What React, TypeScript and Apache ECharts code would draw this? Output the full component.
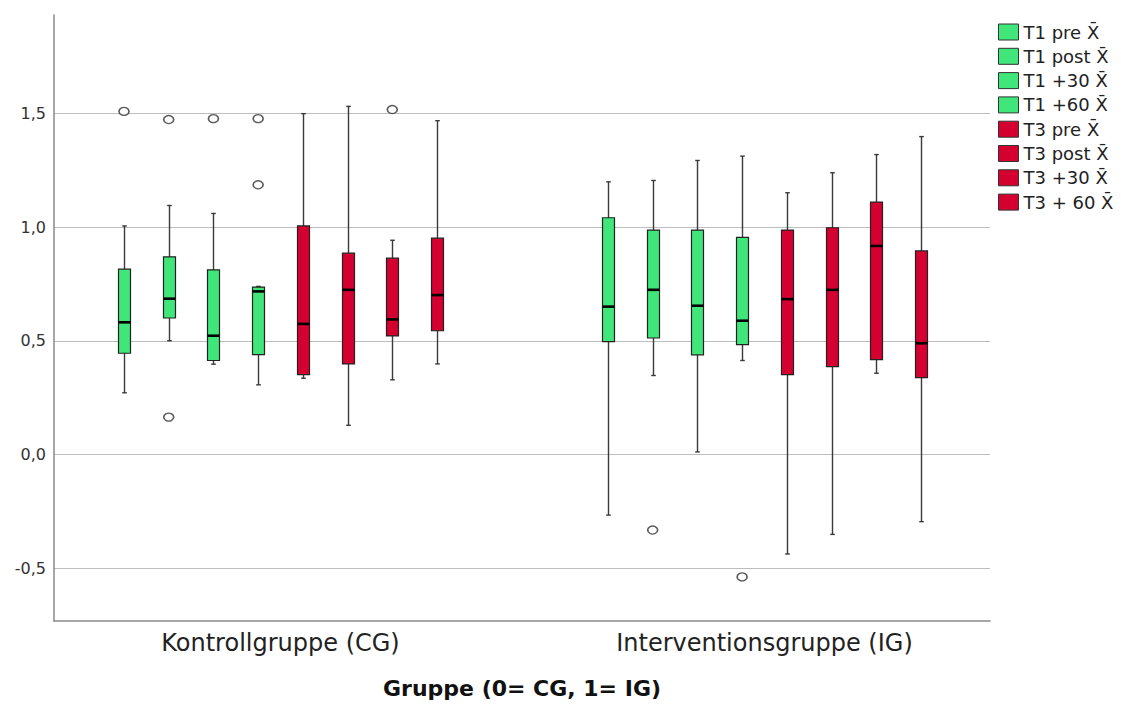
import React, { useEffect, useRef } from 'react';
import * as echarts from 'echarts';

const groups = ['Kontrollgruppe (CG)', 'Interventionsgruppe (IG)'];
const seriesNames = [
  'T1 pre X̄',
  'T1 post X̄',
  'T1 +30 X̄',
  'T1 +60 X̄',
  'T3 pre X̄',
  'T3 post X̄',
  'T3 +30 X̄',
  'T3 + 60 X̄',
];
const seriesColors = ['#40E67A', '#40E67A', '#40E67A', '#40E67A', '#D4002F', '#D4002F', '#D4002F', '#D4002F'];

// [min, q1, median, q3, max]
const cgStats = [
  [0.272, 0.446, 0.582, 0.816, 1.006],
  [0.501, 0.601, 0.686, 0.87, 1.096],
  [0.398, 0.414, 0.523, 0.813, 1.061],
  [0.307, 0.44, 0.718, 0.737, 0.74],
  [0.336, 0.352, 0.575, 1.006, 1.5],
  [0.129, 0.399, 0.725, 0.886, 1.532],
  [0.329, 0.522, 0.595, 0.864, 0.943],
  [0.399, 0.545, 0.702, 0.952, 1.469],
];
const igStats = [
  [-0.266, 0.497, 0.651, 1.042, 1.2],
  [0.348, 0.513, 0.725, 0.988, 1.206],
  [0.012, 0.439, 0.655, 0.988, 1.294],
  [0.414, 0.484, 0.589, 0.956, 1.313],
  [-0.437, 0.352, 0.684, 0.988, 1.152],
  [-0.351, 0.387, 0.725, 0.998, 1.24],
  [0.358, 0.418, 0.918, 1.111, 1.32],
  [-0.295, 0.339, 0.49, 0.896, 1.399],
];
const cgOutliers = [[1.51], [1.474, 0.165], [1.478], [1.478, 1.187], [], [], [1.518], []];
const igOutliers = [[], [-0.332], [], [-0.538], [], [], [], []];

const SLOT = 0.0924;
const BOX_W = 0.0248;
const CAP_W = 0.0095;
const slotOffset = (i: number) => (i - 3.5) * SLOT;

export default function App() {
  const ref = useRef<HTMLDivElement>(null);
  useEffect(() => {
    if (!ref.current) return;
    const chart = echarts.init(ref.current, null, { renderer: 'svg' });

    const boxSeries = seriesNames.map((name, i) => ({
      name,
      type: 'custom',
      itemStyle: { color: seriesColors[i] },
      encode: { x: 0, y: [1, 2, 3, 4, 5] },
      data: [
        [0 + slotOffset(i), ...cgStats[i]],
        [1 + slotOffset(i), ...igStats[i]],
      ],
      renderItem: (params: any, api: any) => {
        const x = api.value(0);
        const pLo = api.coord([x, api.value(1)]);
        const pQ1 = api.coord([x, api.value(2)]);
        const pMd = api.coord([x, api.value(3)]);
        const pQ3 = api.coord([x, api.value(4)]);
        const pHi = api.coord([x, api.value(5)]);
        const w = api.size([BOX_W, 0])[0];
        const cw = api.size([CAP_W, 0])[0];
        const cx = Math.round(pMd[0]) + 0.5;
        const color = api.visual('color');
        const lineStyle = { stroke: '#3a3a3a', lineWidth: 1.4 };
        return {
          type: 'group',
          children: [
            { type: 'line', shape: { x1: cx, y1: pHi[1], x2: cx, y2: pLo[1] }, style: lineStyle },
            { type: 'line', shape: { x1: cx - cw / 2, y1: pHi[1], x2: cx + cw / 2, y2: pHi[1] }, style: lineStyle },
            { type: 'line', shape: { x1: cx - cw / 2, y1: pLo[1], x2: cx + cw / 2, y2: pLo[1] }, style: lineStyle },
            {
              type: 'rect',
              shape: { x: cx - w / 2, y: pQ3[1], width: w, height: pQ1[1] - pQ3[1] },
              style: { fill: color, stroke: '#222', lineWidth: 1.2 },
            },
            {
              type: 'line',
              shape: { x1: cx - w / 2, y1: pMd[1], x2: cx + w / 2, y2: pMd[1] },
              style: { stroke: '#000', lineWidth: 2.6 },
            },
          ],
        };
      },
      z: 2,
    }));

    const outlierData: number[][] = [];
    seriesNames.forEach((_, i) => {
      cgOutliers[i].forEach((v) => outlierData.push([0 + slotOffset(i), v]));
      igOutliers[i].forEach((v) => outlierData.push([1 + slotOffset(i), v]));
    });

    chart.setOption({
      animation: false,
      backgroundColor: '#ffffff',
      textStyle: { fontFamily: 'DejaVu Sans' },
      grid: { left: 54, top: 15, right: 131, bottom: 81, containLabel: false },
      legend: {
        data: seriesNames,
        orient: 'vertical',
        left: 993,
        top: 18,
        icon: 'rect',
        itemWidth: 20,
        itemHeight: 16,
        itemGap: 6.3,
        itemStyle: { borderColor: '#333', borderWidth: 1 },
        textStyle: { fontSize: 18, color: '#222', lineHeight: 16, fontFamily: 'DejaVu Sans' },
        selectedMode: false,
      },
      xAxis: {
        type: 'value',
        min: -0.468,
        max: 1.466,
        axisLine: { show: true, onZero: false, lineStyle: { color: '#8a8a8a', width: 1.5 } },
        axisTick: { show: false },
        splitLine: { show: false },
        axisLabel: {
          customValues: [0, 1],
          formatter: (v: number) => groups[Math.round(v)] ?? '',
          fontSize: 24,
          color: '#222',
          margin: 10,
          fontFamily: 'DejaVu Sans',
        },
        name: 'Gruppe (0= CG, 1= IG)',
        nameLocation: 'middle',
        nameGap: 56,
        nameTextStyle: { fontSize: 22, fontWeight: 'bold', color: '#111', fontFamily: 'DejaVu Sans' },
      },
      yAxis: {
        type: 'value',
        min: -0.732,
        max: 1.934,
        splitNumber: 5,
        axisLine: { show: true, onZero: false, lineStyle: { color: '#8a8a8a', width: 1.5 } },
        axisTick: { show: false },
        splitLine: { show: true, showMinLine: false, showMaxLine: false, lineStyle: { color: '#bdbdbd', width: 1 } },
        axisLabel: {
          showMinLabel: false,
          showMaxLabel: false,
          formatter: (v: number) => v.toFixed(1).replace('.', ','),
          fontSize: 16,
          color: '#333',
          margin: 8,
          fontFamily: 'DejaVu Sans',
        },
      },
      series: [
        ...boxSeries,
        {
          name: 'outliers',
          type: 'scatter',
          data: outlierData,
          symbol: 'circle',
          symbolSize: [10, 8],
          itemStyle: { color: '#ffffff', borderColor: '#333', borderWidth: 1.5 },
          z: 3,
        },
      ],
    });
    return () => chart.dispose();
  }, []);
  return <div ref={ref} style={{ position: 'fixed', left: 0, top: 0, width: 1121, height: 704 }} />;
}
